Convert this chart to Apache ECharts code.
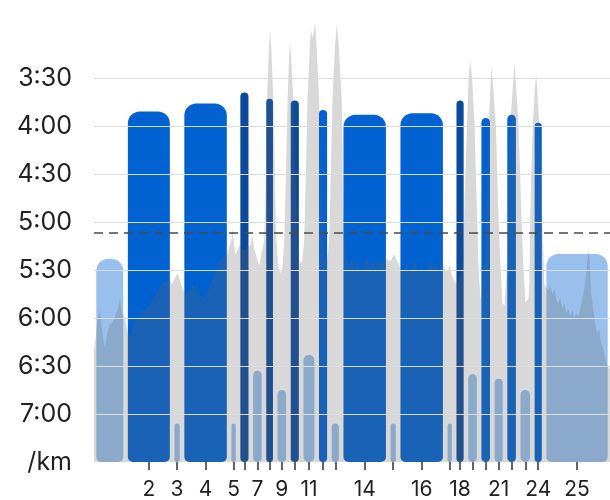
<!DOCTYPE html>
<html><head><meta charset="utf-8">
<script src="https://cdn.jsdelivr.net/npm/echarts@6/dist/echarts.min.js"></script>
<style>html,body{margin:0;padding:0;background:#fff}#c{width:610px;height:500px}</style>
</head><body><div id="c"></div>
<script>
// Laps: distance (km), average pace (s/km), zone (0 recovery, 1 work, 2 fast)
const lapKm   = [0.67,0.99,0.21,1.00,0.19,0.27,0.28,0.24,0.28,0.27,0.33,0.27,0.25,1.00,0.21,1.00,0.19,0.25,0.28,0.28,0.27,0.28,0.30,0.25,1.40];
const lapPace = [323,231,426,226,426,219,393,223,405,224,383,230,426,233,426,232,426,224,395,235,398,233,405,238,320];
const lapZone = [0,1,0,1,0,2,0,2,0,2,0,1,0,1,0,1,0,2,0,1,0,1,0,1,0];
const labeledLaps = [2,3,4,5,7,9,11,14,16,18,21,24,25];
const avgPace = 307;          // 5:07 /km
const basePace = 450;         // 7:30 /km, bottom of chart
const paceGrid = [210,240,270,300,330,360,390,420]; // 3:30 ... 7:00

// Continuous pace trace (km, s/km)
const traceKm = [0,0.042,0.085,0.127,0.169,0.233,0.275,0.339,0.402,0.444,0.508,0.550,0.593,0.656,
0.720,0.783,0.847,0.910,0.974,1.037,1.101,1.185,1.249,1.312,1.376,1.439,1.481,1.545,1.608,1.651,
1.693,1.735,1.778,1.820,1.884,
1.947,2.032,2.138,2.243,2.349,2.434,2.519,2.603,2.688,2.772,2.836,
2.878,2.921,2.942,2.974,3.005,3.048,3.090,3.132,3.196,3.259,3.323,3.365,3.407,3.471,3.513,3.556,
3.619,3.640,3.676,3.714,3.740,3.767,3.810,3.852,3.873,3.915,3.958,
4.000,4.042,4.063,4.112,4.142,4.163,4.190,4.233,4.290,4.311,4.360,4.392,
4.423,4.466,4.487,4.535,4.582,4.607,4.645,4.677,4.698,4.730,4.783,4.840,4.868,4.910,4.931,
4.952,4.995,5.016,5.064,5.122,5.158,5.196,5.263,5.291,5.327,5.376,
5.418,5.481,5.545,5.608,5.672,5.735,5.799,5.862,5.926,5.989,6.053,6.116,6.180,6.243,
6.307,6.370,6.434,6.497,
6.561,6.624,6.688,6.751,6.815,6.878,6.942,7.005,7.069,7.132,7.196,7.259,7.323,7.386,7.450,
7.513,7.556,7.598,7.640,7.683,7.746,7.788,7.831,
7.862,7.888,7.922,7.958,7.994,8.027,8.085,8.112,8.138,8.169,8.212,
8.254,8.296,8.328,8.354,8.381,8.423,8.444,8.476,8.536,8.565,8.593,8.635,8.677,8.720,
8.762,8.783,8.794,8.804,8.840,8.899,8.931,8.963,9.016,9.052,9.079,9.122,9.164,9.228,
9.249,9.266,9.285,9.319,9.365,9.390,9.418,9.460,9.496,9.524,9.566,
9.608,9.651,9.693,9.735,9.778,9.820,9.862,9.905,9.947,9.989,10.032,10.074,10.116,10.159,10.201,
10.243,10.286,10.328,10.370,10.413,10.455,10.487,10.508,10.529,10.561,10.603,10.646,10.688,10.730,
10.772,10.815,10.857,10.899,10.963];
const tracePace = [380,379,360,355,367,379,370,364,362,359,354,348,357,360,
370,371,364,360,358,355,354,352,348,345,342,339,337,337,336,339,
339,334,332,336,342,
345,342,339,345,348,342,336,329,324,321,320,
319,311,304,314,321,317,314,317,318,316,314,308,317,324,327,320,
311,286,224,192,180,192,224,286,311,328,332,
329,311,286,224,199,187,199,224,286,311,324,326,
324,311,286,224,192,180,185,179,176,192,224,286,311,324,326,
324,311,286,224,189,176,189,224,286,311,324,
328,322,329,324,332,326,322,328,324,329,323,327,322,324,
324,320,324,328,
331,326,332,328,324,331,327,332,328,324,329,326,331,324,329,
331,327,333,336,338,337,332,324,
298,271,240,209,199,209,240,271,298,329,349,
348,324,298,271,240,214,203,214,240,271,298,329,351,352,
351,324,298,271,240,214,201,214,240,271,298,329,350,348,
336,298,271,240,217,207,220,240,271,301,339,
340,343,340,345,342,348,351,347,354,351,357,354,359,355,360,
357,359,354,348,342,332,322,317,324,345,354,364,370,367,
376,379,385,389,392];

// ---- derived ----
const zoneColors = ['rgba(0,98,209,0.4)', '#0062d1', '#0c4a9c'];
const toVal = p => basePace - p;
const fmtPace = s => Math.floor(s/60) + ':' + String(Math.round(s%60)).padStart(2,'0');
const bounds = [0];
lapKm.forEach(d => bounds.push(+(bounds[bounds.length-1] + d).toFixed(3)));
const total = bounds[bounds.length-1];
const centers = lapKm.map((d,i) => (bounds[i] + bounds[i+1]) / 2);
const barData = lapKm.map((d,i) => [bounds[i], bounds[i+1], toVal(lapPace[i]), lapZone[i]]);
const tickVals = centers.slice(1);
const labelVals = labeledLaps.map(n => centers[n-1]);
const traceData = traceKm.map((k,i) => [k, toVal(tracePace[i])]);

const chart = echarts.init(document.getElementById('c'), null, {renderer:'canvas'});
chart.setOption({
  animation: false,
  backgroundColor: '#ffffff',
  grid: {left: 94, right: -2, top: 14, bottom: 36, containLabel: false},
  xAxis: {
    type: 'value', min: 0, max: total,
    axisLine: {show: false},
    splitLine: {show: false},
    axisTick: {show: true, customValues: tickVals, length: 8, lineStyle: {color: '#333', width: 1.5}},
    axisLabel: {
      show: true, customValues: labelVals, margin: 17,
      fontSize: 21, color: '#222', fontFamily: 'Inter',
      formatter: v => {
        let best = 0, bd = 1e9;
        centers.forEach((c,i) => { const d = Math.abs(c - v); if (d < bd) { bd = d; best = i; } });
        return String(best + 1);
      }
    }
  },
  yAxis: {
    type: 'value', min: 0, max: 280, interval: 30,
    axisLine: {show: false}, axisTick: {show: false}, splitLine: {show: false},
    axisLabel: {
      margin: 22, fontSize: 25, color: '#222', fontFamily: 'Inter',
      formatter: v => v === 0 ? '/km' : (v > 240 ? '' : fmtPace(basePace - v))
    }
  },
  series: [
    {
      type: 'line', data: [], z: 1, silent: true,
      markLine: {
        silent: true, symbol: ['none','none'], label: {show: false},
        lineStyle: {color: '#dcdcdc', width: 1, type: 'solid'},
        data: paceGrid.map(p => ({yAxis: toVal(p)}))
      }
    },
    {
      type: 'custom', z: 2, silent: true,
      data: barData,
      encode: {x: [0,1], y: 2},
      renderItem: function (params, api) {
        const p0 = api.coord([api.value(0), 0]);
        const p1 = api.coord([api.value(1), api.value(2)]);
        const inset = 2.3;
        const left = p0[0] + inset, right = p1[0] - inset;
        const w = right - left;
        const rt = Math.min(12, w / 2), rb = Math.min(5, w / 2);
        return {
          type: 'rect',
          shape: {x: left, y: p1[1], width: w, height: p0[1] - p1[1], r: [rt, rt, rb, rb]},
          style: {fill: zoneColors[api.value(3)]}
        };
      }
    },
    {
      type: 'line', z: 3, silent: true,
      data: traceData, showSymbol: false, symbol: 'none',
      lineStyle: {width: 0, opacity: 0},
      areaStyle: {color: 'rgba(100,100,100,0.25)', opacity: 1, origin: 'start'}
    },
    {
      type: 'line', data: [], z: 5, silent: true,
      markLine: {
        silent: true, symbol: ['none','none'], label: {show: false},
        lineStyle: {color: '#4a4a4a', width: 1.5, type: [9, 6]},
        data: [{yAxis: toVal(avgPace)}]
      }
    }
  ]
});
</script>
</body></html>
